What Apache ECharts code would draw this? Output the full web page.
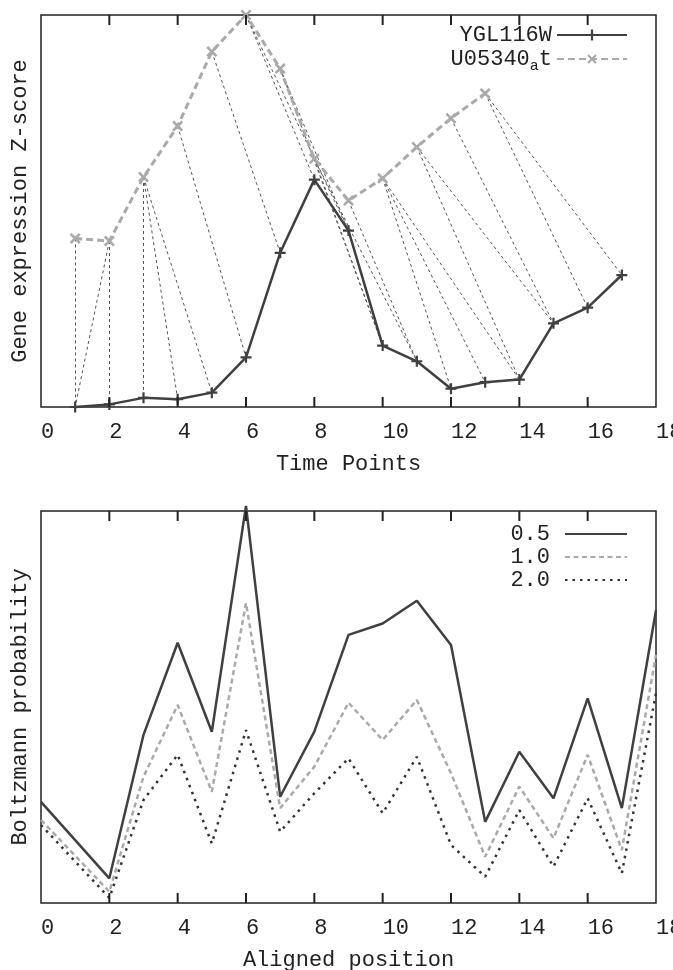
<!DOCTYPE html>
<html><head><meta charset="utf-8">
<script src="https://cdn.jsdelivr.net/npm/echarts@6/dist/echarts.min.js"></script>
<style>html,body{margin:0;padding:0;background:#fff}#c{width:673px;height:970px}</style>
</head><body><div id="c"></div>
<script>
// ---- Top chart data ----
const timePointsY = [1,2,3,4,5,6,7,8,9,10,11,12,13,14,15,16,17];
const ygl116w = [-1.00,-0.98,-0.93,-0.94,-0.89,-0.62,0.18,0.74,0.35,-0.53,-0.65,-0.86,-0.81,-0.79,-0.36,-0.24,0.01];
const timePointsU = [1,2,3,4,5,6,7,8,9,10,11,12,13];
const u05340at = [0.29,0.27,0.76,1.15,1.72,2.00,1.59,0.90,0.58,0.75,0.99,1.21,1.40];
// alignment pairs: [U05340_at index, YGL116W index] (1-based)
const alignment = [[1,1],[2,1],[2,2],[3,3],[3,4],[3,5],[4,6],[5,7],[6,8],[6,9],[7,9],[7,10],[8,10],[8,11],[9,11],[10,12],[10,13],[10,14],[11,14],[11,15],[12,15],[13,16],[13,17]];

// ---- Bottom chart data ----
const positions = [0,2,3,4,5,6,7,8,9,10,11,12,13,14,15,16,17,18];
const p05 = [0.258,0.063,0.429,0.664,0.437,1.013,0.271,0.437,0.684,0.713,0.771,0.658,0.207,0.386,0.267,0.522,0.242,0.747];
const p10 = [0.212,0.029,0.322,0.505,0.284,0.765,0.242,0.348,0.511,0.416,0.518,0.331,0.118,0.297,0.165,0.378,0.135,0.633];
const p20 = [0.199,0.013,0.263,0.378,0.152,0.441,0.182,0.280,0.369,0.229,0.373,0.148,0.067,0.237,0.093,0.267,0.076,0.535];

// ---- Axis ticks (both charts) ----
const xTicks = [2,4,6,8,10,12,14,16];
const topRange = [-1, 2];
const bottomRange = [0, 1];

const FONT = '"Liberation Mono","DejaVu Sans Mono",monospace';
const TXT = '#222';
const pair = (xs, ys) => xs.map((x, i) => [x, ys[i]]);
const plusPath = 'path://M4,0H6V4H10V6H6V10H4V6H0V4H4Z';
const TICK = 10;

function xAxisDef(gridIndex, name) {
  return {
    type: 'value', gridIndex, position: 'bottom', min: 0, max: 18, interval: 2,
    axisLine: {show: false, onZero: false}, axisTick: {show: false}, splitLine: {show: false},
    axisLabel: {show: true, align: 'left', margin: 14, fontFamily: FONT, fontSize: 22, color: TXT, showMaxLabel: true, showMinLabel: true, hideOverlap: false},
    name, nameLocation: 'middle', nameGap: 46,
    nameTextStyle: {fontFamily: FONT, fontSize: 22, color: TXT}
  };
}
function yAxisDef(gridIndex, range, name) {
  return {
    type: 'value', gridIndex, min: range[0], max: range[1],
    axisLine: {show: false, onZero: false}, axisTick: {show: false}, axisLabel: {show: false}, splitLine: {show: false},
    name, nameLocation: 'middle', nameGap: 10, nameRotate: 90,
    nameTextStyle: {fontFamily: FONT, fontSize: 22, color: TXT}
  };
}
// inward tick marks on the bottom and top borders, placed through the axis scale
function tickSeries(axisIndex, range) {
  return {
    type: 'custom', coordinateSystem: 'cartesian2d', xAxisIndex: axisIndex, yAxisIndex: axisIndex,
    silent: true, z: 5, clip: false,
    data: xTicks.map(v => [v, range[0]]),
    renderItem: (params, api) => {
      const x = api.value(0);
      const b = api.coord([x, range[0]]);
      const t = api.coord([x, range[1]]);
      const st = {stroke: TXT, lineWidth: 2};
      return {type: 'group', children: [
        {type: 'line', shape: {x1: b[0], y1: b[1], x2: b[0], y2: b[1] - TICK}, style: st},
        {type: 'line', shape: {x1: t[0], y1: t[1], x2: t[0], y2: t[1] + TICK}, style: st}
      ]};
    }
  };
}
const legendText = {fontFamily: FONT, fontSize: 22, color: TXT,
  rich: {n: {fontFamily: FONT, fontSize: 22, color: TXT}, s: {fontFamily: FONT, fontSize: 15, color: TXT, padding: [14, 0, 0, 0]}}};

const chart = echarts.init(document.getElementById('c'), null, {renderer: 'canvas'});
chart.setOption({
  animation: false,
  backgroundColor: '#fff',
  grid: [
    {left: 41, right: 17, top: 15, height: 392, show: true, borderColor: TXT, borderWidth: 1.5, containLabel: false, outerBoundsMode: 'none'},
    {left: 41, right: 17, top: 511, height: 392, show: true, borderColor: TXT, borderWidth: 1.5, containLabel: false, outerBoundsMode: 'none'}
  ],
  xAxis: [xAxisDef(0, 'Time Points'), xAxisDef(1, 'Aligned position')],
  yAxis: [yAxisDef(0, topRange, 'Gene expression Z-score'), yAxisDef(1, bottomRange, 'Boltzmann probability')],
  legend: [
    {data: ['YGL116W', 'U05340_at'], orient: 'vertical', right: 40, top: 19, align: 'right',
     itemWidth: 70, itemHeight: 14, itemGap: 2, textStyle: legendText,
     formatter: n => n === 'U05340_at' ? '{n|U05340}{s|a}{n|t}' : n},
    {data: ['0.5', '1.0', '2.0'], orient: 'vertical', right: 40, top: 518, align: 'right',
     itemWidth: 62, itemHeight: 14, itemGap: 1, itemStyle: {opacity: 0},
     textStyle: {fontFamily: FONT, fontSize: 22, color: TXT, padding: [0, 10, 0, 0]}}
  ],
  series: [
    tickSeries(0, topRange), tickSeries(1, bottomRange),
    {type: 'lines', coordinateSystem: 'cartesian2d', xAxisIndex: 0, yAxisIndex: 0, silent: true, z: 1,
     lineStyle: {color: '#555', width: 1, type: [3, 3], opacity: 1},
     data: alignment.map(([u, y]) => ({coords: [[timePointsU[u - 1], u05340at[u - 1]], [timePointsY[y - 1], ygl116w[y - 1]]]}))},
    {name: 'YGL116W', type: 'line', xAxisIndex: 0, yAxisIndex: 0, z: 3, clip: false,
     data: pair(timePointsY, ygl116w), color: '#404040',
     lineStyle: {color: '#404040', width: 2.5}, symbol: plusPath, symbolSize: 11,
     itemStyle: {color: '#404040'}},
    {name: 'U05340_at', type: 'line', xAxisIndex: 0, yAxisIndex: 0, z: 2, clip: false,
     data: pair(timePointsU, u05340at), color: '#aaaaaa',
     lineStyle: {color: '#aaaaaa', width: 3, type: [7, 4]}, symbol: plusPath, symbolSize: 13, symbolRotate: 45,
     itemStyle: {color: '#aaaaaa'}},
    {name: '0.5', type: 'line', xAxisIndex: 1, yAxisIndex: 1, clip: false, showSymbol: false, symbol: 'none',
     data: pair(positions, p05), color: '#404040', lineStyle: {color: '#404040', width: 2.5}},
    {name: '1.0', type: 'line', xAxisIndex: 1, yAxisIndex: 1, clip: false, showSymbol: false, symbol: 'none',
     data: pair(positions, p10), color: '#aaaaaa', lineStyle: {color: '#aaaaaa', width: 2.5, type: [5, 3.5]}},
    {name: '2.0', type: 'line', xAxisIndex: 1, yAxisIndex: 1, clip: false, showSymbol: false, symbol: 'none',
     data: pair(positions, p20), color: '#333333', lineStyle: {color: '#333333', width: 2.5, type: [2.5, 5]}}
  ]
});
</script></body></html>
